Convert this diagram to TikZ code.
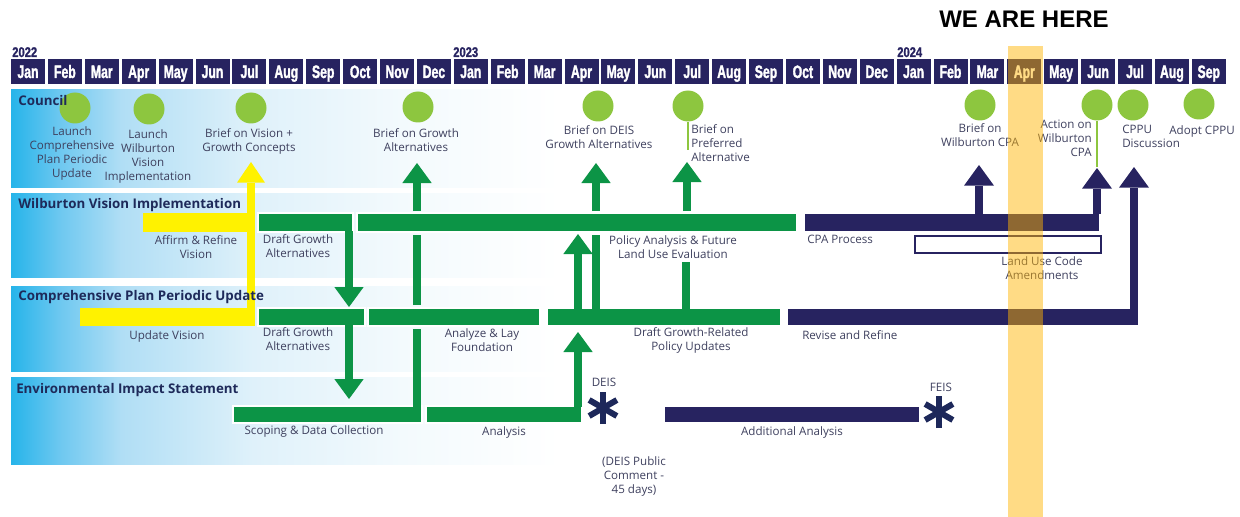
\documentclass[tikz,border=0pt]{standalone}
\usepackage{fontspec}
\setmainfont{Open Sans}
\newfontfamily\monthfont[FakeStretch=0.68,FakeBold=1.6]{Liberation Sans}
\newfontfamily\yearfont[FakeStretch=0.8,FakeBold=1.2]{Liberation Sans}
\newfontfamily\herefont{Liberation Sans}
\usetikzlibrary{arrows.meta}
\definecolor{navy}{RGB}{39,35,96}
\definecolor{astnavy}{RGB}{29,40,90}
\definecolor{bargreen}{RGB}{12,148,70}
\definecolor{milegreen}{RGB}{141,198,63}
\definecolor{vyellow}{RGB}{255,242,0}
\definecolor{hereyellow}{RGB}{255,180,0}
\definecolor{lblgray}{RGB}{62,64,94}
\definecolor{lanetitle}{RGB}{30,42,90}
\definecolor{fadeA}{RGB}{38,180,234}
\definecolor{fadeB}{RGB}{110,200,240}
\definecolor{fadeC}{RGB}{176,222,245}
\definecolor{fadeD}{RGB}{223,241,250}
\definecolor{fadeE}{RGB}{243,250,253}
\pgfdeclarehorizontalshading{lanefade}{100bp}{color(0bp)=(fadeA); color(25bp)=(fadeA);
  color(29.5bp)=(fadeB); color(35bp)=(fadeC); color(47bp)=(fadeD); color(60.5bp)=(fadeE);
  color(75bp)=(white); color(100bp)=(white)}
\begin{document}
\begin{tikzpicture}[x=0.75pt,y=-0.75pt,line cap=butt,
	lbl/.style={font=\fontsize{8.7}{10.5}\selectfont,text=lblgray,inner sep=0pt,align=center,anchor=north},
	lanetitle/.style={font=\fontsize{10}{12}\selectfont\bfseries,text=lanetitle,inner sep=0pt,anchor=base west},
	month/.style={font={\monthfont\bfseries\fontsize{13.5}{14}\selectfont},text=white,inner sep=0pt,anchor=base},
	year/.style={font={\yearfont\bfseries\fontsize{10.5}{12}\selectfont},text=navy,inner sep=0pt,anchor=base west},
	mile/.style={circle,fill=milegreen,minimum size=23.25pt,inner sep=0pt},
	gbar/.style={fill=bargreen,draw=white,line width=0.9pt},
	nbar/.style={fill=navy,draw=white,line width=0.9pt},
	ybar/.style={fill=vyellow},
	gstem/.style={draw=bargreen,line width=6pt},
	upg/.style={gstem,-{Triangle[width=22pt,length=15pt,line width=0pt]}},
	upn/.style={draw=navy,line width=6pt,-{Triangle[width=22.5pt,length=15.5pt,line width=0pt]}},
	upy/.style={draw=vyellow,line width=6pt,-{Triangle[width=21pt,length=15.5pt,line width=0pt]}},
	milestem/.style={draw=milegreen,line width=1.8pt},
	astline/.style={draw=astnavy,line width=4.5pt}]
	\useasboundingbox (0,0) rectangle (1240,517);
	% lanes
	\shade[shading=lanefade] (11,90) rectangle (560,187);
	\shade[shading=lanefade] (11,193) rectangle (560,277);
	\shade[shading=lanefade] (11,286) rectangle (560,371);
	\shade[shading=lanefade] (11,377) rectangle (560,464);
	% months
	\foreach \m [count=\i from 0] in {Jan,Feb,Mar,Apr,May,Jun,Jul,Aug,Sep,Oct,Nov,Dec,Jan,Feb,Mar,Apr,May,Jun,Jul,Aug,Sep,Oct,Nov,Dec,Jan,Feb,Mar,Apr,May,Jun,Jul,Aug,Sep}{
		\fill[navy] ({11+36.9*\i},59) rectangle +(34,25);
		\node[month] (m\i) at ({28+36.9*\i},78) {\m};
	}
	\node[year] (y22) at (12,57) {2022};
	\node[year] (y23) at (453,57) {2023};
	\node[year] (y24) at (897,57) {2024};
	\node[anchor=base,inner sep=0pt,font={\herefont\bfseries\fontsize{18}{20}\selectfont}] (here) at (1024,28) {WE ARE HERE};
	% council milestones
	\node[mile] (cLcppu) at (75,108) {};
	\node[mile] (cLwvi) at (149,109) {};
	\node[mile] (cVision) at (251,108) {};
	\node[mile] (cGrowth) at (418,107) {};
	\node[mile] (cDeis) at (598,106) {};
	\node[mile] (cPref) at (688,106) {};
	\node[mile] (cWcpa) at (980,105) {};
	\node[mile] (cAction) at (1097,105) {};
	\node[mile] (cDisc) at (1133,105) {};
	\node[mile] (cAdopt) at (1199,104) {};
	\draw[milestem] (cPref.south) -- (688,150);
	\draw[milestem] (cAction.south) -- (1097,167);
	\node[lbl] (lLcppu) at (72,126) {Launch\\Comprehensive\\Plan Periodic\\Update};
	\node[lbl] (lLwvi) at (148,129) {Launch\\Wilburton\\Vision\\Implementation};
	\node[lbl] (lVision) at (249,128) {Brief on Vision +\\Growth Concepts};
	\node[lbl] (lGrowth) at (416,128) {Brief on Growth\\Alternatives};
	\node[lbl] (lDeis) at (599,125) {Brief on DEIS\\Growth Alternatives};
	\node[lbl,anchor=north west,align=left] (lPref) at (691,124) {Brief on\\Preferred\\Alternative};
	\node[lbl] (lWcpa) at (980,123) {Brief on\\Wilburton CPA};
	\node[lbl,anchor=north east,align=right] (lAction) at (1092,120) {Action on\\Wilburton\\CPA};
	\node[lbl,anchor=north west,align=left] (lDisc) at (1122,125) {CPPU\\Discussion};
	\node[lbl] (lAdopt) at (1202,125) {Adopt CPPU};
	% yellow vision track
	\fill[ybar] (143,213) rectangle (255,232);
	\fill[ybar] (80,308) rectangle (255,326);
	\draw[upy] (251,326) -- (251,162);
	% green bars
	\path[gbar] (258,213) rectangle (353,232);
	\path[gbar] (357,213) rectangle (797,232);
	\path[gbar] (258,308) rectangle (365,326);
	\path[gbar] (368,308) rectangle (540,326);
	\path[gbar] (547,308) rectangle (781,326);
	\path[gbar] (233,406) rectangle (422,423);
	\path[gbar] (426,406) rectangle (582,423);
	% navy bars
	\path[nbar] (804,213) rectangle (1100,232);
	\path[nbar] (787,308) rectangle (1139,326);
	\path[nbar] (664,406) rectangle (920,423);
	\draw[navy,line width=1.4pt,fill=white] (915,236) rectangle (1101,253);
	% green arrows
	\draw[upg] (349,231) -- (349,307);
	\draw[upg] (349,325) -- (349,399);
	\draw[gstem] (417,407) -- (417,329);
	\draw[gstem] (417,305) -- (417,235);
	\draw[upg] (417,211) -- (417,163);
	\draw[gstem] (596,309) -- (596,235);
	\draw[upg] (596,211) -- (596,163);
	\draw[gstem] (686,309) -- (686,262);
	\draw[upg] (687,211) -- (687,162);
	\draw[upg] (578,309) -- (578,234);
	\draw[upg] (578,407) -- (578,332);
	% navy arrows
	\draw[upn] (979,214) -- (979,165);
	\draw[upn] (1097,214) -- (1097,168);
	\draw[upn] (1134,309) -- (1134,167);
	% bar labels
	\node[lbl] (lAffirm) at (196,235) {Affirm \& Refine\\Vision};
	\node[lbl] (lDraftW) at (298,234) {Draft Growth\\Alternatives};
	\node[lbl,fill=white] (lPolicy) at (673,235) {Policy Analysis \& Future\\Land Use Evaluation};
	\node[lbl,anchor=north west] (lCpa) at (807,235) {CPA Process};
	\node[lbl] (lLuca) at (1042,256) {Land Use Code\\Amendments};
	\node[lbl] (lUpdate) at (167,330) {Update Vision};
	\node[lbl] (lDraftC) at (298,327) {Draft Growth\\Alternatives};
	\node[lbl] (lAnalyze) at (482,328) {Analyze \& Lay\\Foundation};
	\node[lbl] (lRelated) at (691,327) {Draft Growth-Related\\Policy Updates};
	\node[lbl,anchor=north west] (lRevise) at (802,330) {Revise and Refine};
	\node[lbl] (lScoping) at (314,425) {Scoping \& Data Collection};
	\node[lbl] (lAnalysis) at (504,426) {Analysis};
	\node[lbl] (lAdd) at (792,426) {Additional Analysis};
	% asterisks
	\coordinate (deis) at (603,408);
	\coordinate (feis) at (939,412);
	\foreach \a in {90,30,-30}{
		\draw[astline] (deis) ++(\a:16) -- ++(\a+180:32);
		\draw[astline] (feis) ++(\a:16) -- ++(\a+180:32);
	}
	\node[lbl] (lDeisStar) at (604,378) {DEIS};
	\node[lbl] (lFeisStar) at (941,383) {FEIS};
	\node[lbl] (lComment) at (634,456) {(DEIS Public\\Comment -\\45 days)};
	% lane titles
	\node[lanetitle] (tCouncil) at (18,106) {Council};
	\node[lanetitle] (tWilb) at (18,208) {Wilburton Vision Implementation};
	\node[lanetitle] (tCppu) at (18,300) {Comprehensive Plan Periodic Update};
	\node[lanetitle] (tEis) at (16,393) {Environmental Impact Statement};
	% we are here
	\fill[hereyellow,fill opacity=0.48] (1008,46) rectangle (1043,517);
\end{tikzpicture}
\end{document}
